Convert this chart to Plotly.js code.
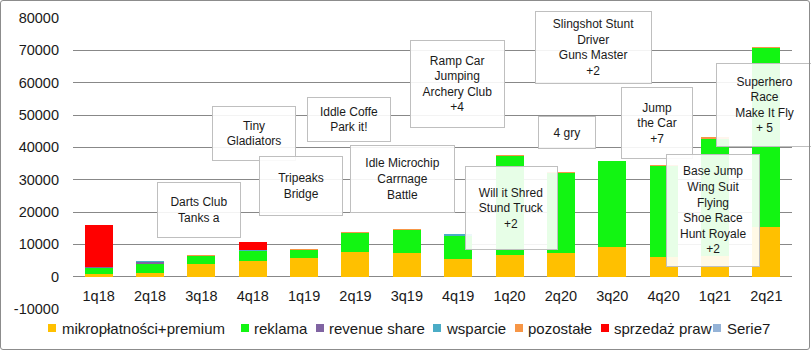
<!DOCTYPE html>
<html>
<head>
<meta charset="utf-8">
<script src="https://cdn.plot.ly/plotly-3.0.1.min.js"></script>
<style>
html,body{margin:0;padding:0;background:#fff;}
#wrap{position:relative;width:811px;height:354px;}
#chart{width:811px;height:354px;}
#frame{position:absolute;left:0px;top:0px;width:808px;height:348px;border:1px solid #8c8c8c;border-radius:3px;pointer-events:none;}
</style>
</head>
<body>
<div id="wrap"><div id="chart"></div><div id="frame"></div></div>
<script>
// ---- data ----
const categories = ['1q18','2q18','3q18','4q18','1q19','2q19','3q19','4q19','1q20','2q20','3q20','4q20','1q21','2q21'];
const mikroplatnosci = [700, 1100, 3900, 4700, 5700, 7500, 7200, 5400, 6600, 7400, 9100, 6000, 6300, 15500];
const reklama        = [1850, 2800, 2500, 3200, 2500, 5900, 7300, 7100, 30700, 24800, 26700, 28200, 36400, 55100];
const revenueShare   = [300, 500, 0, 150, 0, 0, 0, 150, 0, 0, 0, 0, 0, 0];
const wsparcie       = [200, 300, 0, 100, 0, 0, 0, 400, 0, 0, 0, 0, 0, 0];
const pozostale      = [0, 0, 300, 0, 300, 500, 300, 300, 400, 300, 100, 400, 400, 300];
const sprzedazPraw   = [12900, 0, 0, 2550, 0, 0, 0, 0, 0, 0, 0, 0, 0, 0];
const serie7         = [0, 0, 0, 0, 0, 0, 0, 0, 0, 0, 0, 0, 0, 0];
const seriesNames = ['mikropłatności+premium','reklama','revenue share','wsparcie','pozostałe','sprzedaż praw','Serie7'];
const yTickVals = [-10000, 0, 10000, 20000, 30000, 40000, 50000, 60000, 70000, 80000];
const gameLabels = [
  'Darts Club<br>Tanks a',
  'Tiny<br>Gladiators',
  'Tripeaks<br>Bridge',
  'Iddle Coffe<br>Park it!',
  'Idle Microchip<br>Carrnage<br>Battle',
  'Ramp Car<br>Jumping<br>Archery Club<br>+4',
  'Will it Shred<br>Stund Truck<br>+2',
  'Slingshot Stunt<br>Driver<br>Guns Master<br>+2',
  '4 gry',
  'Jump<br>the Car<br>+7',
  'Superhero<br>Race<br>Make It Fly<br>+ 5',
  'Base Jump<br>Wing Suit<br>Flying<br>Shoe Race<br>Hunt Royale<br>+2'
];

// ---- layout helpers ----
const colors = ['#FFC000','#12F512','#8064A2','#4BACC6','#F79646','#FF0000','#95B3D7'];
const M = {l:73, r:19, t:18, b:45};
const PW = 811 - M.l - M.r, PH = 354 - M.t - M.b;
const PX = x => (x - M.l) / PW;
const PY = y => (M.t + PH - y) / PH;

const values = [mikroplatnosci, reklama, revenueShare, wsparcie, pozostale, sprzedazPraw, serie7];
const traces = values.map((v, i) => ({
  type: 'bar', x: categories, y: v, name: seriesNames[i],
  marker: {color: colors[i], line: {width: 0}}, showlegend: false
}));

const boxPx = [
  [156.5,182.3,240.3,238.7],
  [211.7,106,295.7,161],
  [258.7,156.3,342.7,216],
  [307,97.3,391,142.3],
  [350.3,145.3,455.3,213.3],
  [410,40.3,504.7,128.3],
  [465,166,557.7,250.3],
  [535.3,11.3,652.3,84.3],
  [537.7,115.7,595.3,149],
  [621.3,86.7,693.3,159],
  [716,63.3,813,147.3],
  [666.3,154,760.7,266.7]
];
const annotations = gameLabels.map((t, i) => {
  const b = boxPx[i];
  return {
    xref:'paper', yref:'paper', x: PX(b[0]), y: PY(b[1]), xanchor:'left', yanchor:'top',
    width: b[2]-b[0]-2, height: b[3]-b[1]-2, text: t, showarrow:false,
    bgcolor:'rgba(255,255,255,0.9)', bordercolor:'#BFBFBF', borderwidth:1, borderpad:0,
    align:'center', valign:'middle',
    font:{family:'Liberation Sans, Arial, sans-serif', size:12, color:'#1a1a1a'}
  };
});

// custom legend
const legSq = [48, 241, 316, 433, 515, 601, 713];
const legTx = [61, 253, 328, 445, 527, 613, 726];
const shapes = [];
seriesNames.forEach((n, i) => {
  shapes.push({type:'rect', xref:'paper', yref:'paper', x0:PX(legSq[i]), x1:PX(legSq[i]+8),
    y0:PY(332), y1:PY(324), fillcolor:colors[i], line:{width:0}});
  annotations.push({xref:'paper', yref:'paper', x:PX(legTx[i]), y:PY(328), xanchor:'left', yanchor:'middle',
    text:n, showarrow:false, borderpad:0,
    font:{family:'Liberation Sans, Arial, sans-serif', size:15, color:'#1a1a1a'}});
});

const layout = {
  width: 811, height: 354,
  margin: M,
  paper_bgcolor:'#ffffff', plot_bgcolor:'#ffffff',
  barmode:'stack', bargap:0.455,
  showlegend:false,
  font:{family:'Liberation Sans, Arial, sans-serif', size:14.5, color:'#1a1a1a'},
  xaxis:{type:'category', anchor:'free', position: PY(277.3), showgrid:false, zeroline:false,
    showline:false, ticks:'', ticklabelstandoff:8, tickfont:{size:14.5, color:'#1a1a1a'}, fixedrange:true},
  yaxis:{range:[-10000,80000], tickvals:yTickVals, ticktext:yTickVals.map(String), showgrid:true,
    gridcolor:'#888888', gridwidth:1, zeroline:false, showline:false, ticks:'',
    ticklabelstandoff:13, tickfont:{size:14.5, color:'#1a1a1a'}, fixedrange:true},
  annotations: annotations,
  shapes: shapes
};

Plotly.newPlot('chart', traces, layout, {staticPlot:true, displayModeBar:false});
</script>
</body>
</html>
